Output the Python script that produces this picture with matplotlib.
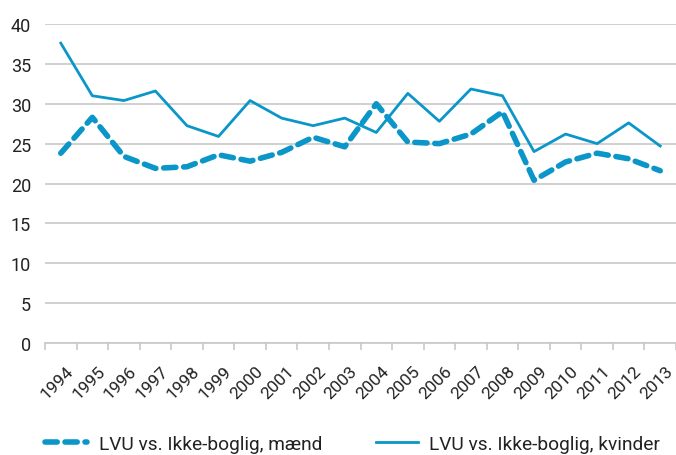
import matplotlib
matplotlib.use("Agg")
import matplotlib.pyplot as plt
import matplotlib.transforms as mtransforms
from matplotlib.lines import Line2D

years = [str(y) for y in range(1994, 2014)]
maend = [23.8, 28.3, 23.4, 21.9, 22.1, 23.6, 22.8, 23.9, 25.8, 24.6,
         30.0, 25.2, 25.0, 26.2, 29.0, 20.4, 22.7, 23.8, 23.1, 21.6]
kvinder = [37.6, 31.0, 30.4, 31.6, 27.25, 25.9, 30.4, 28.2, 27.25, 28.2,
           26.4, 31.3, 27.8, 31.85, 31.0, 24.0, 26.2, 25.0, 27.6, 24.7]
labels = ["LVU vs. Ikke-boglig, mænd", "LVU vs. Ikke-boglig, kvinder"]
yticks = [0, 5, 10, 15, 20, 25, 30, 35, 40]

plt.rcParams['font.family'] = ['Roboto', 'DejaVu Sans']
color = "#0a96c8"
W, H = 676, 456
fig = plt.figure(figsize=(W/100, H/100), dpi=100)
ax = fig.add_axes([45/W, 1-344/H, (676-45)/W, (344-25)/H])

x = list(range(len(years)))
dash = (0, (2.2, 1.4))
ax.plot(x, maend, color=color, lw=4, linestyle=dash, dash_capstyle='round')
ax.plot(x, kvinder, color=color, lw=2)

ax.set_xlim(-0.5, len(years)-0.5)
ax.set_ylim(0, 40)
ax.set_yticks(yticks)
ax.set_yticklabels([str(v) for v in yticks], fontsize=13, color="#222222")
ax.yaxis.grid(True, color="#c8c8c8", lw=1.2)
ax.set_axisbelow(True)
ax.tick_params(axis='y', length=0, pad=10)

ax.set_xticks([i - 0.5 for i in range(len(years)+1)], minor=False)
ax.set_xticklabels([""]*(len(years)+1))
ax.set_xticks(x, minor=True)
ax.set_xticklabels(years, minor=True, rotation=45, ha='right', va='top',
                   rotation_mode='anchor', fontsize=12.5, color="#222222")
ax.tick_params(axis='x', which='major', length=5, color="#c8c8c8", width=1.2)
ax.tick_params(axis='x', which='minor', length=0, pad=14)
offset = mtransforms.ScaledTranslation(5/100, 0, fig.dpi_scale_trans)
for lab in ax.get_xticklabels(minor=True):
    lab.set_transform(lab.get_transform() + offset)

for s in ['top', 'right', 'left']:
    ax.spines[s].set_visible(False)
ax.spines['bottom'].set_color("#c8c8c8")
ax.spines['bottom'].set_linewidth(1.2)

handles = [Line2D([], [], color=color, lw=4, linestyle=dash, dash_capstyle='round'),
           Line2D([], [], color=color, lw=2)]
fig.legend(handles, labels, loc='center left', bbox_to_anchor=(45/W, 1-445/H), ncol=2,
           frameon=False, fontsize=13.8, handlelength=2.2, handletextpad=0.6,
           columnspacing=2.8, borderpad=0, borderaxespad=0,
           labelcolor="#222222")

fig.savefig("out.png", dpi=100)
